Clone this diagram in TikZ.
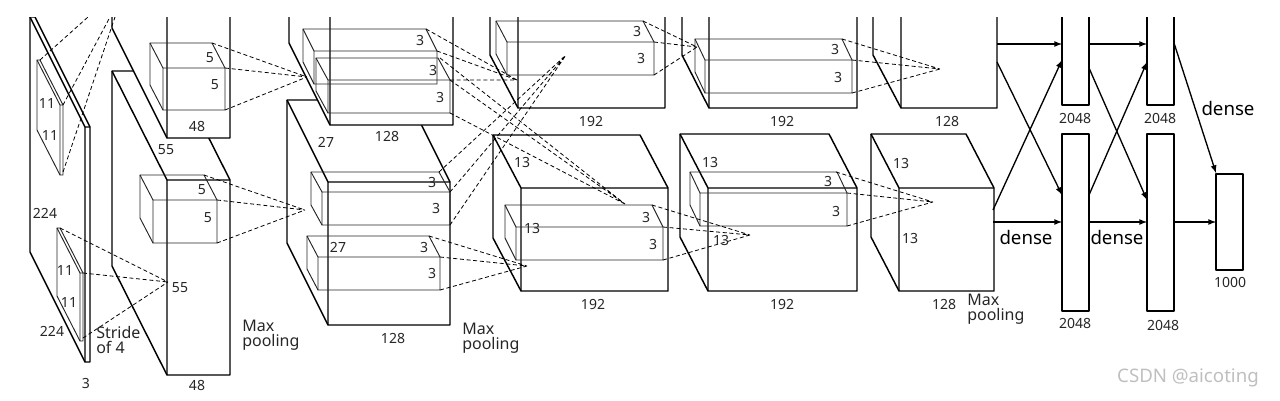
\documentclass[tikz,border=0pt]{standalone}
\usepackage{fontspec}
\setmainfont{Noto Sans}
\begin{document}
\begin{tikzpicture}[x=0.75pt,y=-0.75pt,
  blk/.style={line width=1.1pt,fill=white,line join=round},
  ker/.style={line width=0.7pt,draw=black!85},
  dsh/.style={densely dashed,line width=0.6pt},
  arr/.style={line width=1pt,-latex},
  lab/.style={font=\fontsize{10.5}{12}\selectfont,inner sep=0pt,text=black!85},
  big/.style={font=\fontsize{12}{14}\selectfont,inner sep=0pt,align=left,anchor=north west,text=black!85},
  dn/.style={font=\fontsize{14}{16}\selectfont,inner sep=0pt}]
\useasboundingbox (0,0) rectangle (1280,400);
% #1 x #2 y #3 dx #4 dy #5 w #6 h  #7 style
\newcommand\cub[7]{%
 \draw[#7] (#1,#2) -- ({#1+#5},#2) -- ({#1+#5+#3},{#2+#4}) -- ({#1+#5+#3},{#2+#4+#6}) -- ({#1+#3},{#2+#4+#6}) -- (#1,{#2+#6}) -- cycle;
 \draw[#7,fill=none] (#1,#2) -- ({#1+#3},{#2+#4}) -- ({#1+#3+#5},{#2+#4}) ({#1+#3},{#2+#4}) -- ({#1+#3},{#2+#4+#6});}
\begin{scope}
\clip (0,17) rectangle (1280,400);
% input
\cub{30}{17}{55}{110}{5}{235}{blk}
\cub{37}{60}{23}{45}{3}{70}{ker}
\cub{57}{228}{23}{45}{3}{68}{ker}
% layer 1
\cub{112}{71}{55}{109}{63}{195}{blk}
\cub{112}{-100}{55}{110}{63}{128}{blk}
\draw[dsh] (40,60) -- (88,17) (63,105) -- (110,17) (63,172) -- (115,17);
\coordinate (t1) at (168,282);
\draw[dsh] (60,228) -- (t1) (83,273) -- (t1) (83,338) -- (t1);
\cub{150}{43}{13}{25}{62}{42}{ker}
\cub{140}{175}{13}{25}{64}{43}{ker}
\coordinate (t2) at (307,77); \coordinate (t3) at (305,210);
% layer 2
\cub{287}{100}{41}{82}{122}{143}{blk}
\cub{289}{-100}{41}{82}{123}{143}{blk}
\draw[dsh] (212,43) -- (t2) (225,68) -- (t2) (225,110) -- (t2);
\draw[dsh] (204,175) -- (t3) (217,200) -- (t3) (217,243) -- (t3);
\cub{303}{29}{11}{22}{123}{33}{ker}
\cub{316}{58}{12}{22}{122}{33}{ker}
\cub{311}{172}{11}{20}{128}{33}{ker}
\cub{307}{236}{11}{21}{122}{33}{ker}
\coordinate (t4) at (517,80); \coordinate (t5) at (566,55);
\coordinate (t6) at (625,204); \coordinate (t7) at (527,266);
% conv3
\cub{490}{-50}{28}{53}{147}{105}{blk}
\cub{493}{135}{28}{53}{147}{103}{blk}
\cub{496}{21}{11}{21}{147}{33}{ker}
\cub{505}{205}{11}{22}{147}{33}{ker}
\draw[dsh] (426,29) -- (t4) (437,51) -- (t4) (450,80) -- (t4);
\draw[dsh] (439,172) -- (t5) (450,192) -- (t5) (450,225) -- (t5);
\draw[dsh] (440,58) -- (t6) (450,80) -- (t6) (450,113) -- (t6);
\draw[dsh] (429,236) -- (t7) (440,257) -- (t7) (440,290) -- (t7);
\coordinate (t8) at (697,47); \coordinate (t9) at (750,235);
% conv4
\cub{682}{-50}{27}{53}{148}{105}{blk}
\cub{680}{134}{28}{54}{149}{103}{blk}
\cub{695}{39}{10}{21}{147}{33}{ker}
\cub{690}{172}{10}{21}{147}{33}{ker}
\draw[dsh] (643,21) -- (t8) (654,42) -- (t8) (654,75) -- (t8);
\draw[dsh] (652,205) -- (t9) (663,227) -- (t9) (663,260) -- (t9);
\coordinate (t10) at (940,69); \coordinate (t11) at (933,202);
% conv5
\cub{873}{-50}{28}{53}{96}{105}{blk}
\cub{871}{134}{28}{54}{95}{103}{blk}
\draw[dsh] (842,39) -- (t10) (852,60) -- (t10) (852,93) -- (t10);
\draw[dsh] (836,172) -- (t11) (847,193) -- (t11) (847,226) -- (t11);
% dense
\draw[blk] (1062,0) rectangle (1089,105);
\draw[blk] (1062,134) rectangle (1089,311);
\draw[blk] (1147,0) rectangle (1174,105);
\draw[blk] (1147,134) rectangle (1174,311);
\draw[blk] (1216,174) rectangle (1243,270);
\end{scope}
\draw[arr] (997,44) -- (1062,44);
\draw[arr] (997,62) -- (1062,195);
\draw[arr] (993,210) -- (1062,60);
\draw[arr] (993,222) -- (1062,222);
\draw[arr] (1089,44) -- (1147,44);
\draw[arr] (1089,68) -- (1147,200);
\draw[arr] (1089,195) -- (1147,62);
\draw[arr] (1089,222) -- (1147,222);
\draw[arr] (1174,43) -- (1216,173);
\draw[arr] (1174,222) -- (1216,222);
% labels
\node[lab] (a1) at (47,103) {11}; \node[lab] (a2) at (50,135) {11};
\node[lab] (a3) at (65,270) {11}; \node[lab] (a4) at (69,302) {11};
\node[lab] (a5) at (45,213) {224}; \node[lab] (a6) at (52,331) {224};
\node[lab] (a7) at (86,383) {3};
\node[big] (a8) at (96,326) {Stride\\[-3pt]of 4};
\node[lab] (b1) at (210,58) {5}; \node[lab] (b2) at (215,85) {5};
\node[lab] (b3) at (202,190) {5}; \node[lab] (b4) at (208,218) {5};
\node[lab] (b5) at (197,126) {48}; \node[lab] (b6) at (166,150) {55};
\node[lab] (b7) at (180,288) {55}; \node[lab] (b8) at (197,385) {48};
\node[big] (b9) at (242,320) {Max\\[-3pt]pooling};
\node[lab] (c1) at (420,40) {3}; \node[lab] (c2) at (433,70) {3}; \node[lab] (c3) at (440,97) {3};
\node[lab] (c4) at (432,182) {3}; \node[lab] (c5) at (436,208) {3};
\node[lab] (c6) at (424,247) {3}; \node[lab] (c7) at (432,273) {3};
\node[lab] (c8) at (326,142) {27}; \node[lab] (c9) at (387,136) {128};
\node[lab] (c10) at (338,247) {27}; \node[lab] (c11) at (393,338) {128};
\node[big] (c12) at (462,323) {Max\\[-3pt]pooling};
\node[lab] (d1) at (637,32) {3}; \node[lab] (d2) at (641,58) {3};
\node[lab] (d3) at (646,217) {3}; \node[lab] (d4) at (653,244) {3};
\node[lab] (d5) at (522,162) {13}; \node[lab] (d6) at (532,228) {13};
\node[lab] (d7) at (591,121) {192}; \node[lab] (d8) at (593,304) {192};
\node[lab] (e1) at (835,49) {3}; \node[lab] (e2) at (838,77) {3};
\node[lab] (e3) at (828,181) {3}; \node[lab] (e4) at (836,211) {3};
\node[lab] (e5) at (710,162) {13}; \node[lab] (e6) at (721,240) {13};
\node[lab] (e7) at (782,121) {192}; \node[lab] (e8) at (782,304) {192};
\node[lab] (f1) at (901,163) {13}; \node[lab] (f2) at (910,238) {13};
\node[lab] (f3) at (947,121) {128}; \node[lab] (f4) at (944,304) {128};
\node[big] (f5) at (967,294) {Max\\[-3pt]pooling};
\node[lab] (g1) at (1075,118) {2048}; \node[lab] (g2) at (1160,118) {2048};
\node[lab] (g3) at (1075,323) {2048}; \node[lab] (g4) at (1163,325) {2048};
\node[lab] (g5) at (1230,282) {1000};
\node[dn] (h1) at (1026,237) {dense}; \node[dn] (h2) at (1117,237) {dense};
\node[dn] (h3) at (1228,108) {dense};
\node[font=\fontsize{14}{16}\selectfont,text=black!25,inner sep=0pt] (w) at (1188,378) {CSDN @aicoting};
\end{tikzpicture}
\end{document}
